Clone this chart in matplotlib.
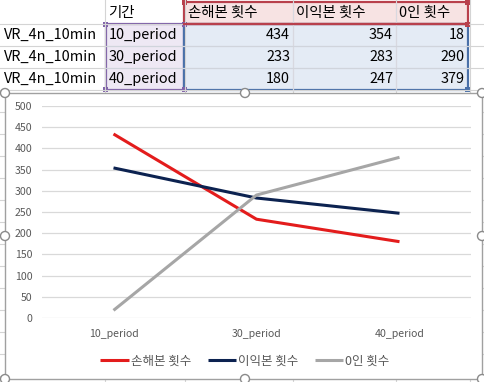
import matplotlib.pyplot as plt
from matplotlib.patches import Rectangle, Circle

plt.rcParams['font.family'] = ['Noto Sans CJK KR', 'DejaVu Sans']

# 데이터
row_labels = ["VR_4n_10min", "VR_4n_10min", "VR_4n_10min"]
periods = ["10_period", "30_period", "40_period"]
series_names = ["손해본 횟수", "이익본 횟수", "0인 횟수"]
loss_counts = [434, 233, 180]
gain_counts = [354, 283, 247]
zero_counts = [18, 290, 379]
series_colors = ["#e31c1c", "#0c2250", "#a6a6a6"]

W, H = 485, 382
fig = plt.figure(figsize=(W / 100, H / 100), dpi=100)

# 시트 배경 (픽셀 좌표)
bg = fig.add_axes([0, 0, 1, 1])
bg.set_xlim(0, W)
bg.set_ylim(H, 0)
bg.axis("off")

grid_c = "#d4d4d4"
col_x = [105, 185, 293, 396, 470]
row_y = [24, 46, 68, 90, 112, 134, 156, 178, 200, 222, 244, 266, 288, 310, 332, 354, 376]
for x in col_x:
    bg.plot([x, x], [0, H], color=grid_c, lw=0.8)
for y in row_y:
    bg.plot([0, W], [y, y], color=grid_c, lw=0.8)

# 원본 범위 강조 표시
bg.add_patch(Rectangle((185, 2), 283, 22, facecolor="#f7e3e3", edgecolor="none"))
bg.add_patch(Rectangle((106, 24), 78, 66, facecolor="#eee8f4", edgecolor="none"))
bg.add_patch(Rectangle((185, 24), 283, 66, facecolor="#e4ebf5", edgecolor="none"))
for x in [293, 396]:
    bg.plot([x, x], [2, 90], color="#d8d8e0", lw=0.8)
for y in [46, 68]:
    bg.plot([106, 468], [y, y], color="#d0d4dc", lw=0.8)
bg.add_patch(Rectangle((184.5, 2), 283.5, 22, fill=False, edgecolor="#b8404c", lw=1.6))
bg.add_patch(Rectangle((106, 24), 78.5, 65.5, fill=False, edgecolor="#8062a8", lw=1.6))
bg.add_patch(Rectangle((184.5, 24), 283.5, 65.5, fill=False, edgecolor="#4a70a8", lw=1.6))
bg.plot([184.5, 468], [24, 24], color="#b8404c", lw=1.6)
for (x, y, c) in [(184.5, 2, "#b8404c"), (468, 2, "#b8404c"), (468, 24, "#b8404c"),
                  (106, 24, "#8062a8"), (184.5, 24, "#8062a8"), (106, 89.5, "#8062a8"),
                  (184.5, 89.5, "#8062a8"), (468, 89.5, "#4a70a8")]:
    bg.add_patch(Rectangle((x - 2.5, y - 2.5), 5, 5, facecolor=c, edgecolor="none"))

tfs = 10.4
bg.text(108, 13, "기간", fontsize=tfs, va="center", ha="left")
for name, x in zip(series_names, [188, 296, 399]):
    bg.text(x, 13, name, fontsize=tfs, va="center", ha="left")
for i in range(3):
    y = 35 + 22 * i
    bg.text(4, y, row_labels[i], fontsize=tfs, va="center", ha="left")
    bg.text(109, y, periods[i], fontsize=tfs, va="center", ha="left")
    bg.text(290, y, str(loss_counts[i]), fontsize=tfs, va="center", ha="right")
    bg.text(393, y, str(gain_counts[i]), fontsize=tfs, va="center", ha="right")
    bg.text(465, y, str(zero_counts[i]), fontsize=tfs, va="center", ha="right")

# 차트 영역
bg.add_patch(Rectangle((5, 93), 477, 286, facecolor="white", edgecolor="#a0a0a0", lw=1.0, zorder=3))
for (x, y) in [(5, 93), (245, 93), (482, 93), (5, 236), (482, 236),
               (5, 379), (245, 379), (482, 379)]:
    bg.add_patch(Circle((x, y), 4.5, facecolor="white", edgecolor="#8a8a8a", lw=1.0, zorder=4))

ax = fig.add_axes([42 / W, (H - 318) / H, 429 / W, 212 / H])
ax.set_facecolor("none")
ax.set_xlim(-0.5, 2.5)
ax.set_ylim(0, 500)
ax.set_yticks(range(0, 501, 50))
ax.yaxis.grid(True, color="#d9d9d9", lw=0.9)
ax.set_axisbelow(True)
for s in ax.spines.values():
    s.set_visible(False)
ax.tick_params(length=0, labelsize=7.6, colors="#595959", pad=7)
ax.set_xticks(range(3))
ax.set_xticklabels(periods)
ax.tick_params(axis="x", pad=8)

xs = range(len(periods))
for vals, name, c in zip([loss_counts, gain_counts, zero_counts], series_names, series_colors):
    ax.plot(xs, vals, color=c, lw=2.2, label=name, solid_capstyle="butt")

fig.legend(loc="center", bbox_to_anchor=(245 / W, 1 - 361 / H), ncol=3, frameon=False,
           fontsize=9, handlelength=2.3, handletextpad=0.15, columnspacing=1.3,
           labelcolor="#595959")

fig.savefig("out.png", dpi=100)
